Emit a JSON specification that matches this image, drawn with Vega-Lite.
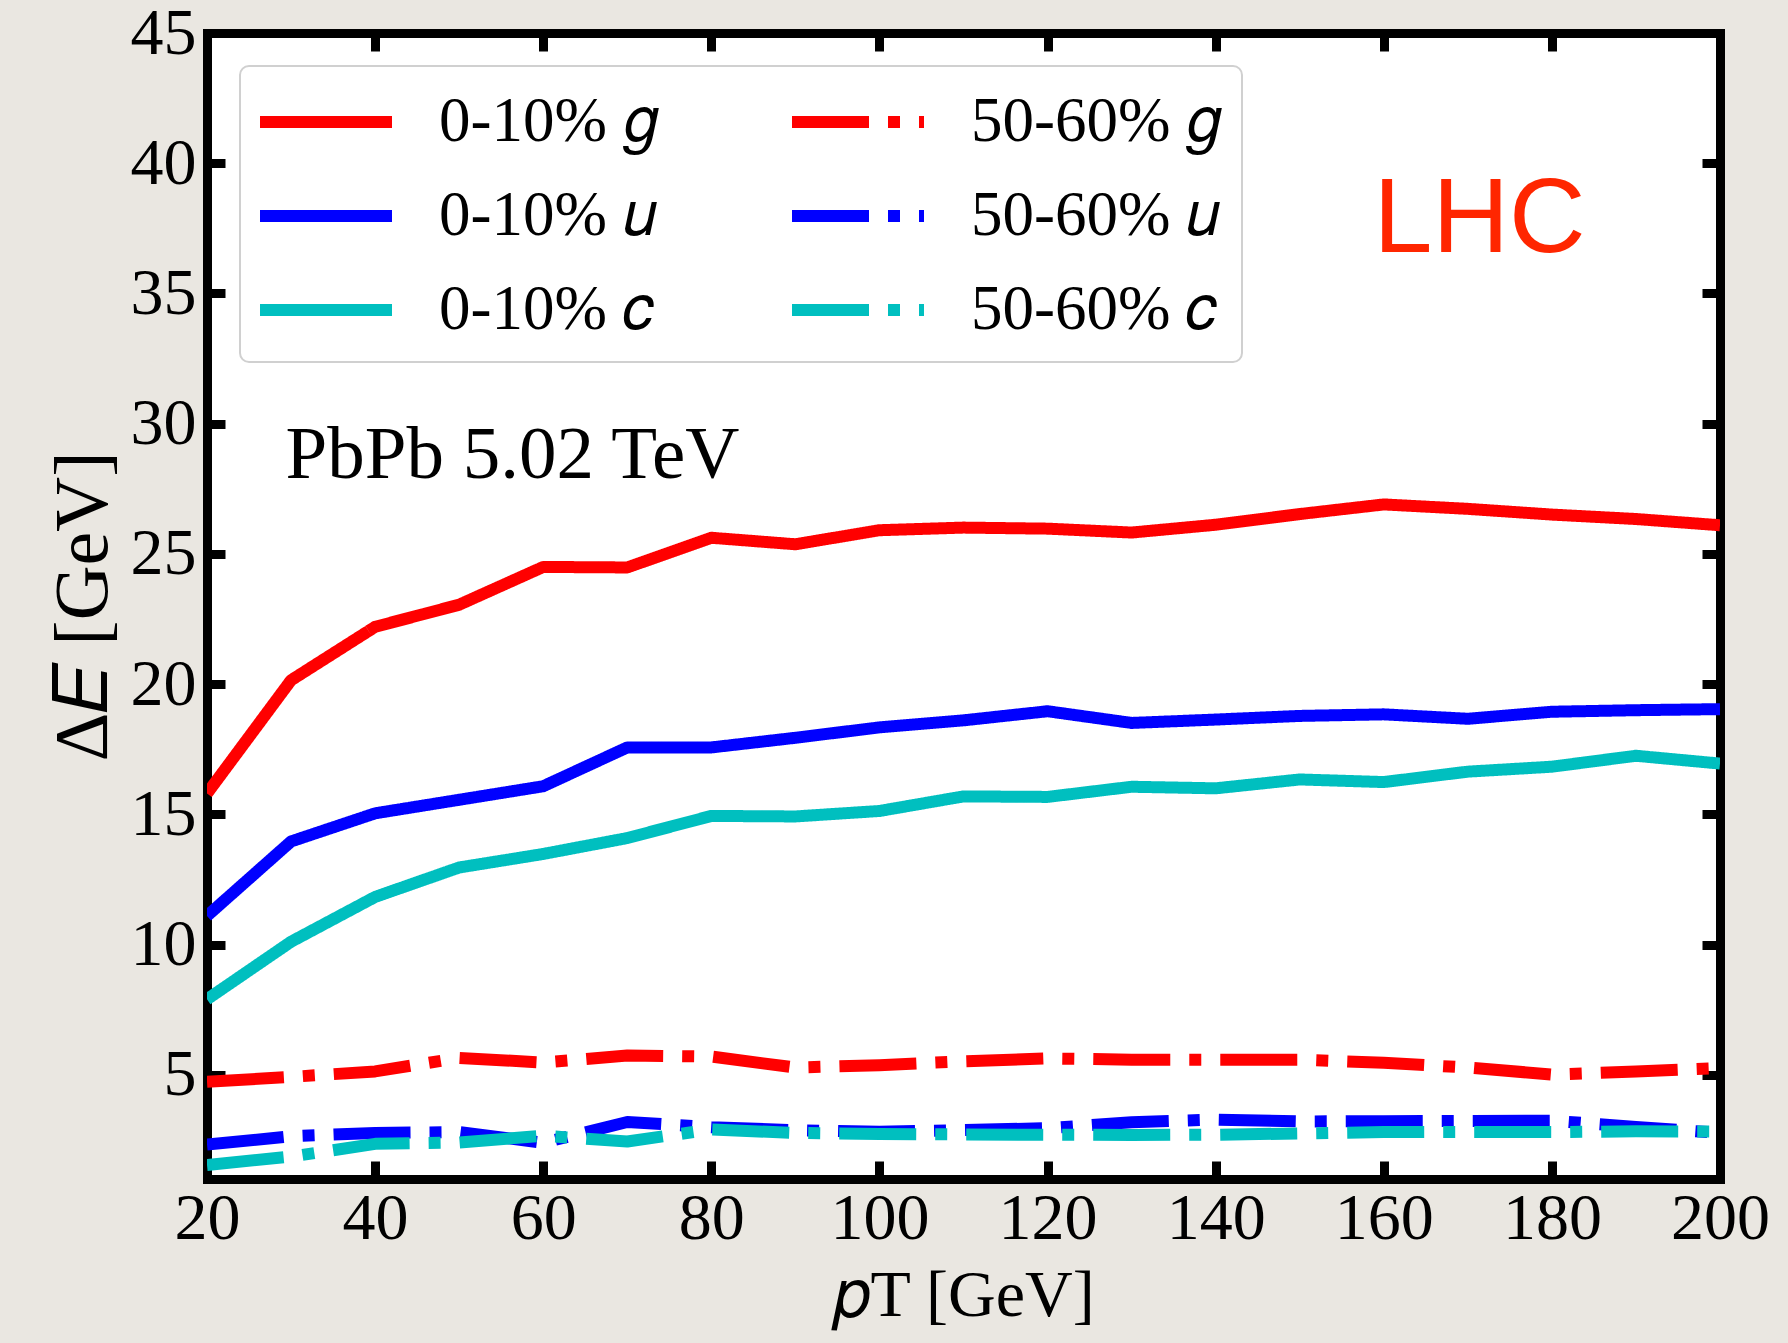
{
  "$schema": "https://vega.github.io/schema/vega-lite/v6.json",
  "width": 1513,
  "height": 1146,
  "autosize": {"type": "none"},
  "padding": {"left": 207, "top": 33, "right": 68, "bottom": 164},
  "background": "#eae7e1",
  "config": {
    "view": {"fill": "white", "stroke": null},
    "axis": {
      "domain": true, "domainColor": "black", "domainWidth": 9, "domainCap": "square",
      "ticks": true, "tickColor": "black", "tickWidth": 9, "tickSize": -18,
      "grid": false, "zindex": 1,
      "labelFont": "Liberation Serif", "labelFontSize": 66, "labelColor": "black",
      "labelFlush": false, "labelOverlap": false,
      "titleFont": "Liberation Serif", "titleColor": "black", "titleFontWeight": "normal"
    },
    "legend": {
      "orient": "top-left", "offset": 33, "padding": 20,
      "fillColor": "white", "strokeColor": "#d0d0d0", "strokeWidth": 2, "cornerRadius": 9,
      "columns": 2, "columnPadding": 110, "rowPadding": 26,
      "symbolType": "M-1.2,0H3.2", "symbolSize": 3600, "symbolStrokeWidth": 12,
      "labelFont": "Liberation Serif", "labelFontSize": 63, "labelOffset": 107, "labelColor": "black",
      "labelLimit": 0, "symbolLimit": 0, "title": null
    }
  },
  "datasets": {
    "curves": [
      {"s": "0-10% 𝑔", "x": 20, "y": 15.8}, {"s": "0-10% 𝑔", "x": 30, "y": 20.15}, {"s": "0-10% 𝑔", "x": 40, "y": 22.2}, {"s": "0-10% 𝑔", "x": 50, "y": 23.05}, {"s": "0-10% 𝑔", "x": 60, "y": 24.5}, {"s": "0-10% 𝑔", "x": 70, "y": 24.48}, {"s": "0-10% 𝑔", "x": 80, "y": 25.62}, {"s": "0-10% 𝑔", "x": 90, "y": 25.37}, {"s": "0-10% 𝑔", "x": 100, "y": 25.91}, {"s": "0-10% 𝑔", "x": 110, "y": 26.01}, {"s": "0-10% 𝑔", "x": 120, "y": 25.97}, {"s": "0-10% 𝑔", "x": 130, "y": 25.82}, {"s": "0-10% 𝑔", "x": 140, "y": 26.12}, {"s": "0-10% 𝑔", "x": 150, "y": 26.53}, {"s": "0-10% 𝑔", "x": 160, "y": 26.9}, {"s": "0-10% 𝑔", "x": 170, "y": 26.73}, {"s": "0-10% 𝑔", "x": 180, "y": 26.51}, {"s": "0-10% 𝑔", "x": 190, "y": 26.34}, {"s": "0-10% 𝑔", "x": 200, "y": 26.1},
      {"s": "0-10% 𝑢", "x": 20, "y": 11.1}, {"s": "0-10% 𝑢", "x": 30, "y": 13.96}, {"s": "0-10% 𝑢", "x": 40, "y": 15.04}, {"s": "0-10% 𝑢", "x": 50, "y": 15.56}, {"s": "0-10% 𝑢", "x": 60, "y": 16.08}, {"s": "0-10% 𝑢", "x": 70, "y": 17.57}, {"s": "0-10% 𝑢", "x": 80, "y": 17.57}, {"s": "0-10% 𝑢", "x": 90, "y": 17.94}, {"s": "0-10% 𝑢", "x": 100, "y": 18.34}, {"s": "0-10% 𝑢", "x": 110, "y": 18.61}, {"s": "0-10% 𝑢", "x": 120, "y": 18.96}, {"s": "0-10% 𝑢", "x": 130, "y": 18.51}, {"s": "0-10% 𝑢", "x": 140, "y": 18.64}, {"s": "0-10% 𝑢", "x": 150, "y": 18.78}, {"s": "0-10% 𝑢", "x": 160, "y": 18.84}, {"s": "0-10% 𝑢", "x": 170, "y": 18.67}, {"s": "0-10% 𝑢", "x": 180, "y": 18.94}, {"s": "0-10% 𝑢", "x": 190, "y": 19.0}, {"s": "0-10% 𝑢", "x": 200, "y": 19.04},
      {"s": "0-10% 𝑐", "x": 20, "y": 7.9}, {"s": "0-10% 𝑐", "x": 30, "y": 10.11}, {"s": "0-10% 𝑐", "x": 40, "y": 11.83}, {"s": "0-10% 𝑐", "x": 50, "y": 12.96}, {"s": "0-10% 𝑐", "x": 60, "y": 13.48}, {"s": "0-10% 𝑐", "x": 70, "y": 14.09}, {"s": "0-10% 𝑐", "x": 80, "y": 14.94}, {"s": "0-10% 𝑐", "x": 90, "y": 14.92}, {"s": "0-10% 𝑐", "x": 100, "y": 15.13}, {"s": "0-10% 𝑐", "x": 110, "y": 15.69}, {"s": "0-10% 𝑐", "x": 120, "y": 15.67}, {"s": "0-10% 𝑐", "x": 130, "y": 16.06}, {"s": "0-10% 𝑐", "x": 140, "y": 16.0}, {"s": "0-10% 𝑐", "x": 150, "y": 16.34}, {"s": "0-10% 𝑐", "x": 160, "y": 16.24}, {"s": "0-10% 𝑐", "x": 170, "y": 16.64}, {"s": "0-10% 𝑐", "x": 180, "y": 16.83}, {"s": "0-10% 𝑐", "x": 190, "y": 17.25}, {"s": "0-10% 𝑐", "x": 200, "y": 16.95},
      {"s": "50-60% 𝑔", "x": 20, "y": 4.73}, {"s": "50-60% 𝑔", "x": 30, "y": 4.92}, {"s": "50-60% 𝑔", "x": 40, "y": 5.13}, {"s": "50-60% 𝑔", "x": 50, "y": 5.65}, {"s": "50-60% 𝑔", "x": 60, "y": 5.47}, {"s": "50-60% 𝑔", "x": 70, "y": 5.74}, {"s": "50-60% 𝑔", "x": 80, "y": 5.7}, {"s": "50-60% 𝑔", "x": 90, "y": 5.28}, {"s": "50-60% 𝑔", "x": 100, "y": 5.37}, {"s": "50-60% 𝑔", "x": 110, "y": 5.52}, {"s": "50-60% 𝑔", "x": 120, "y": 5.63}, {"s": "50-60% 𝑔", "x": 130, "y": 5.58}, {"s": "50-60% 𝑔", "x": 140, "y": 5.58}, {"s": "50-60% 𝑔", "x": 150, "y": 5.58}, {"s": "50-60% 𝑔", "x": 160, "y": 5.46}, {"s": "50-60% 𝑔", "x": 170, "y": 5.28}, {"s": "50-60% 𝑔", "x": 180, "y": 5.01}, {"s": "50-60% 𝑔", "x": 190, "y": 5.13}, {"s": "50-60% 𝑔", "x": 200, "y": 5.26},
      {"s": "50-60% 𝑢", "x": 20, "y": 2.32}, {"s": "50-60% 𝑢", "x": 30, "y": 2.64}, {"s": "50-60% 𝑢", "x": 40, "y": 2.77}, {"s": "50-60% 𝑢", "x": 50, "y": 2.8}, {"s": "50-60% 𝑢", "x": 60, "y": 2.39}, {"s": "50-60% 𝑢", "x": 70, "y": 3.19}, {"s": "50-60% 𝑢", "x": 80, "y": 2.99}, {"s": "50-60% 𝑢", "x": 90, "y": 2.87}, {"s": "50-60% 𝑢", "x": 100, "y": 2.81}, {"s": "50-60% 𝑢", "x": 110, "y": 2.88}, {"s": "50-60% 𝑢", "x": 120, "y": 2.95}, {"s": "50-60% 𝑢", "x": 130, "y": 3.18}, {"s": "50-60% 𝑢", "x": 140, "y": 3.28}, {"s": "50-60% 𝑢", "x": 150, "y": 3.21}, {"s": "50-60% 𝑢", "x": 160, "y": 3.22}, {"s": "50-60% 𝑢", "x": 170, "y": 3.23}, {"s": "50-60% 𝑢", "x": 180, "y": 3.24}, {"s": "50-60% 𝑢", "x": 190, "y": 3.0}, {"s": "50-60% 𝑢", "x": 200, "y": 2.77},
      {"s": "50-60% 𝑐", "x": 20, "y": 1.54}, {"s": "50-60% 𝑐", "x": 30, "y": 1.86}, {"s": "50-60% 𝑐", "x": 40, "y": 2.35}, {"s": "50-60% 𝑐", "x": 50, "y": 2.4}, {"s": "50-60% 𝑐", "x": 60, "y": 2.66}, {"s": "50-60% 𝑐", "x": 70, "y": 2.44}, {"s": "50-60% 𝑐", "x": 80, "y": 2.9}, {"s": "50-60% 𝑐", "x": 90, "y": 2.77}, {"s": "50-60% 𝑐", "x": 100, "y": 2.73}, {"s": "50-60% 𝑐", "x": 110, "y": 2.71}, {"s": "50-60% 𝑐", "x": 120, "y": 2.7}, {"s": "50-60% 𝑐", "x": 130, "y": 2.69}, {"s": "50-60% 𝑐", "x": 140, "y": 2.7}, {"s": "50-60% 𝑐", "x": 150, "y": 2.75}, {"s": "50-60% 𝑐", "x": 160, "y": 2.8}, {"s": "50-60% 𝑐", "x": 170, "y": 2.8}, {"s": "50-60% 𝑐", "x": 180, "y": 2.8}, {"s": "50-60% 𝑐", "x": 190, "y": 2.83}, {"s": "50-60% 𝑐", "x": 200, "y": 2.82}
    ],
    "pbpb": [{"label": "PbPb 5.02 TeV", "x": 29.34, "y": 27.9}],
    "lhc": [{"label": "LHC", "x": 171.4, "y": 36.6}]
  },
  "layer": [
    {
      "data": {"name": "curves"},
      "mark": {"type": "line", "strokeWidth": 12, "strokeJoin": "round", "strokeCap": "butt", "clip": true},
      "encoding": {
        "x": {"field": "x", "type": "quantitative",
              "scale": {"domain": [20, 200], "nice": false, "zero": false},
              "axis": {"orient": "bottom", "values": [20, 40, 60, 80, 100, 120, 140, 160, 180, 200],
                       "labelPadding": 25, "title": "𝑝T [GeV]", "titleFontSize": 66, "titlePadding": 12}},
        "y": {"field": "y", "type": "quantitative",
              "scale": {"domain": [1, 45], "nice": false, "zero": false},
              "axis": {"orient": "left", "values": [5, 10, 15, 20, 25, 30, 35, 40, 45],
                       "labelPadding": 29, "title": "Δ𝐸 [GeV]", "titleFontSize": 76, "titlePadding": 8}},
        "color": {"field": "s", "type": "nominal",
                  "scale": {"domain": ["0-10% 𝑔", "0-10% 𝑢", "0-10% 𝑐", "50-60% 𝑔", "50-60% 𝑢", "50-60% 𝑐"],
                            "range": ["#ff0000", "#0000ff", "#00bfbf", "#ff0000", "#0000ff", "#00bfbf"]}},
        "strokeDash": {"field": "s", "type": "nominal",
                       "scale": {"domain": ["0-10% 𝑔", "0-10% 𝑢", "0-10% 𝑐", "50-60% 𝑔", "50-60% 𝑢", "50-60% 𝑐"],
                                 "range": [[1, 0], [1, 0], [1, 0], [77, 19, 12, 19], [77, 19, 12, 19], [77, 19, 12, 19]]}}
      }
    },
    {
      "data": {"name": "pbpb"},
      "mark": {"type": "text", "font": "Liberation Serif", "fontSize": 75, "align": "left", "baseline": "alphabetic", "color": "black"},
      "encoding": {
        "x": {"field": "x", "type": "quantitative",
              "axis": {"orient": "top", "values": [20, 40, 60, 80, 100, 120, 140, 160, 180, 200], "labels": false, "title": null}},
        "y": {"field": "y", "type": "quantitative",
              "axis": {"orient": "right", "values": [5, 10, 15, 20, 25, 30, 35, 40, 45], "labels": false, "title": null}},
        "text": {"field": "label"}
      }
    },
    {
      "data": {"name": "lhc"},
      "mark": {"type": "text", "font": "Liberation Sans", "fontSize": 106, "align": "center", "baseline": "alphabetic", "color": "#ff2600"},
      "encoding": {
        "x": {"field": "x", "type": "quantitative", "axis": null},
        "y": {"field": "y", "type": "quantitative", "axis": null},
        "text": {"field": "label"}
      }
    }
  ],
  "resolve": {"axis": {"x": "independent", "y": "independent"}}
}
